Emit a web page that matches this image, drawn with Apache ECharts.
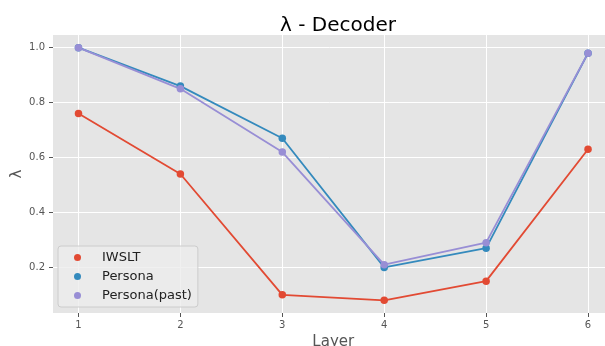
<!DOCTYPE html>
<html>
<head>
<meta charset="utf-8">
<script src="https://cdn.jsdelivr.net/npm/echarts@6/dist/echarts.min.js"></script>
<style>
  html, body { margin: 0; padding: 0; background: #fff; }
  #chart { width: 605px; height: 346px; }
</style>
</head>
<body>
<div id="chart"></div>
<script>
const layers = [1, 2, 3, 4, 5, 6];
const iwslt = [0.76, 0.54, 0.10, 0.08, 0.15, 0.63];
const persona = [1.0, 0.86, 0.67, 0.20, 0.27, 0.98];
const personaPast = [1.0, 0.85, 0.62, 0.21, 0.29, 0.98];
const yTicks = [0.2, 0.4, 0.6, 0.8, 1.0];

const colors = ["#E24A33", "#348ABD", "#988ED5"];
const font = "DejaVu Sans";

const pairs = (ys) => layers.map((x, i) => [x, ys[i]]);

const chart = echarts.init(document.getElementById("chart"));

const lineSeries = (name, ys, color) => ({
  name: name,
  type: "line",
  data: pairs(ys),
  symbol: "circle",
  symbolSize: 7.5,
  itemStyle: { color: color },
  lineStyle: { color: color, width: 1.8 },
  clip: false,
  animation: false,
});

chart.setOption({
  backgroundColor: "#fff",
  color: colors,
  title: {
    text: "λ - Decoder",
    left: 333,
    textAlign: "center",
    top: 11,
    textStyle: { fontFamily: font, fontSize: 20, fontWeight: "normal", color: "#000" },
  },
  grid: {
    left: 53,
    top: 35,
    right: -8.5,
    bottom: 33,
    outerBoundsMode: "none",
    containLabel: false,
    show: true,
    backgroundColor: "#E5E5E5",
    borderWidth: 0,
  },
  legend: {
    orient: "vertical",
    left: 58,
    top: 246,
    icon: "circle",
    itemWidth: 7,
    itemHeight: 7,
    itemGap: 4,
    padding: [4, 6, 4, 16],
    backgroundColor: "rgba(236,236,236,0.8)",
    borderColor: "#cccccc",
    borderWidth: 1,
    borderRadius: 3,
    textStyle: {
      fontFamily: font,
      fontSize: 13,
      color: "#222",
      lineHeight: 15,
      padding: [0, 0, 0, 16],
    },
    data: ["IWSLT", "Persona", "Persona(past)"],
  },
  xAxis: {
    type: "value",
    min: 0.75,
    max: 6.25,
    name: "Layer",
    nameLocation: "middle",
    nameGap: 22,
    nameMoveOverlap: false,
    nameTextStyle: { fontFamily: font, fontSize: 15, color: "#555" },
    axisLine: { show: false },
    axisTick: {
      show: true,
      length: 4,
      lineStyle: { color: "#555" },
      customValues: layers,
    },
    axisLabel: {
      fontFamily: font,
      fontSize: 10,
      color: "#555",
      margin: 7,
      customValues: layers,
    },
    splitLine: { show: true, lineStyle: { color: "#fff", width: 1 } },
  },
  yAxis: {
    type: "value",
    min: 0.034,
    max: 1.046,
    name: "λ",
    nameLocation: "middle",
    nameGap: 28,
    nameMoveOverlap: false,
    nameRotate: 90,
    nameTextStyle: { fontFamily: font, fontSize: 15, color: "#555" },
    axisLine: { show: false },
    axisTick: {
      show: true,
      length: 4,
      lineStyle: { color: "#555" },
      customValues: yTicks,
    },
    axisLabel: {
      fontFamily: font,
      fontSize: 10,
      color: "#555",
      margin: 8,
      customValues: yTicks,
      formatter: (v) => v.toFixed(1),
    },
    splitLine: { show: true, lineStyle: { color: "#fff", width: 1 } },
  },
  series: [
    lineSeries("IWSLT", iwslt, colors[0]),
    lineSeries("Persona", persona, colors[1]),
    lineSeries("Persona(past)", personaPast, colors[2]),
  ],
});

window.addEventListener("resize", () => chart.resize());
</script>
</body>
</html>
